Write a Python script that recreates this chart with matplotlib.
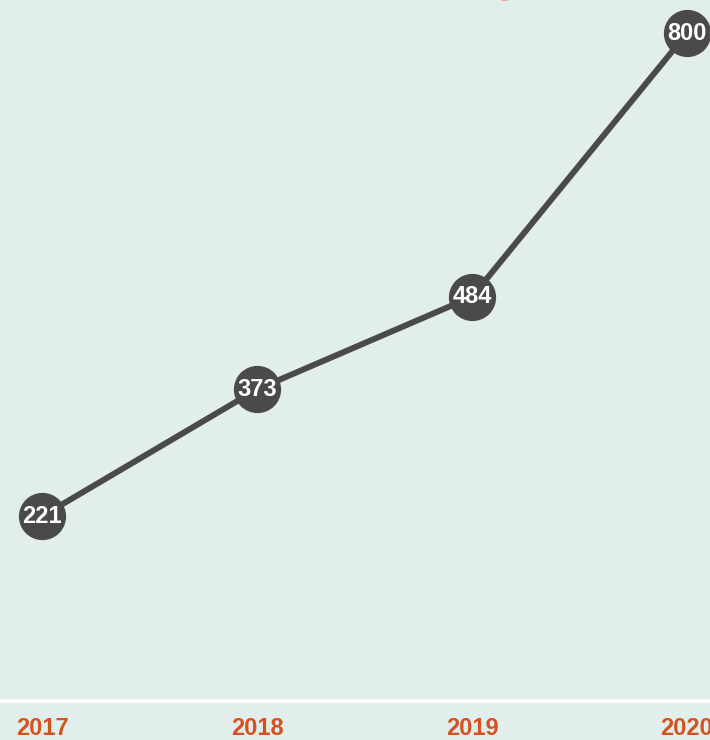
import matplotlib.pyplot as plt

# data
years = ['2017', '2018', '2019', '2020']
values = [221, 373, 484, 800]

bg = '#e2eeeb'
line_col = '#4a4a4a'
year_col = '#d35220'

fig = plt.figure(figsize=(7.1, 7.4), dpi=100)
fig.patch.set_facecolor(bg)
ax = fig.add_axes([0, 0, 1, 1])
ax.set_facecolor(bg)

x = list(range(len(years)))
ax.plot(x, values, color=line_col, linewidth=4.3, solid_capstyle='round', zorder=2)
ax.plot(x, values, 'o', color=line_col, markersize=33, zorder=3)
for xi, v in zip(x, values):
    ax.text(xi, v, str(v), color='white', fontsize=17, fontweight='bold',
            family='Liberation Sans', ha='center', va='center', zorder=4)

# baseline and year labels
ax.axhline(0, color='white', linewidth=2.6, zorder=1)
for xi, yr in zip(x, years):
    ax.text(xi, -33, yr, color=year_col, fontsize=17, fontweight='bold',
            family='Liberation Sans', ha='center', va='center')

# clipped legend marker peeking in at the top
ax.plot([0.71], [1.0135], 'o', color='#e8a07c', markersize=14,
        transform=ax.transAxes, clip_on=True)

ax.set_xlim(-0.1953, 3.107)
ax.set_ylim(-47.2, 839.8)
ax.axis('off')

fig.savefig('out.png', dpi=100, facecolor=bg)
